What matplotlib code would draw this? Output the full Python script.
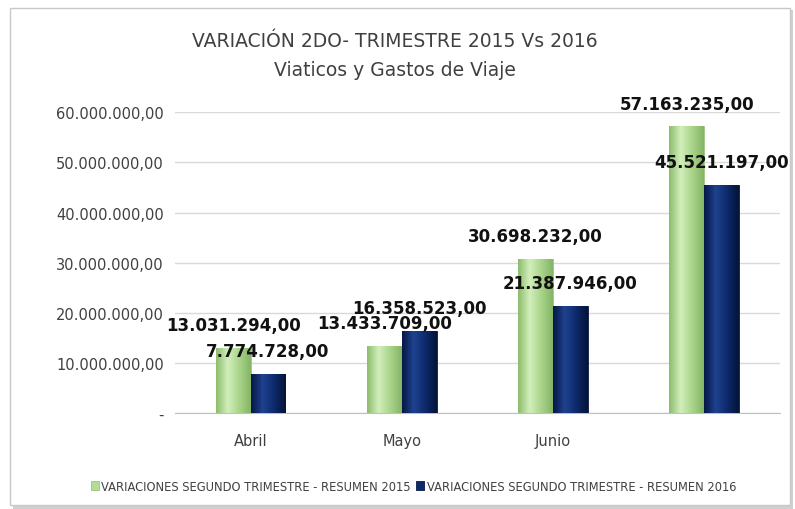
import matplotlib.pyplot as plt
import matplotlib.patches as patches
from matplotlib.colors import LinearSegmentedColormap
import numpy as np

# Data
meses = ["Abril", "Mayo", "Junio", ""]
resumen_2015 = [13031294.00, 13433709.00, 30698232.00, 57163235.00]
resumen_2016 = [7774728.00, 16358523.00, 21387946.00, 45521197.00]
series = ["VARIACIONES SEGUNDO TRIMESTRE - RESUMEN 2015",
          "VARIACIONES SEGUNDO TRIMESTRE - RESUMEN 2016"]
y_ticks = [0, 10e6, 20e6, 30e6, 40e6, 50e6, 60e6]


def fmt(v):
    # 13.031.294,00 style
    s = "{:,.2f}".format(v)
    return s.replace(",", "X").replace(".", ",").replace("X", ".")


fig = plt.figure(figsize=(7.95, 5.10), dpi=100)

# Chart frame with a soft shadow
shadow = patches.Rectangle((0.016, 0.0), 0.982, 0.978, transform=fig.transFigure,
                           facecolor="#d0d0d0", edgecolor="none", zorder=-2)
frame = patches.Rectangle((0.012, 0.008), 0.982, 0.975, transform=fig.transFigure,
                          facecolor="white", edgecolor="#c8c8c8", linewidth=1.0, zorder=-1)
fig.patches.extend([shadow, frame])

ax = fig.add_axes([0.220, 0.188, 0.761, 0.590])
ax.set_facecolor("none")

x = np.arange(len(meses))
w = 0.23
green = "#b3dc95"
navy = "#0d2a6b"

b1 = ax.bar(x - w / 2, resumen_2015, w, color=green, edgecolor="#9cc47e",
            linewidth=0.6, label=series[0], zorder=3)
b2 = ax.bar(x + w / 2, resumen_2016, w, color=navy, edgecolor="#081a45",
            linewidth=0.6, label=series[1], zorder=3)

# cylinder-like shading on every bar
shade_green = LinearSegmentedColormap.from_list("g", ["#8dbd6c", "#d2efbb", "#a9d48a", "#86b566"])
shade_navy = LinearSegmentedColormap.from_list("n", ["#061846", "#1f4290", "#0d2a6b", "#051438"])
grad = np.linspace(0, 1, 64).reshape(1, -1)
for bars, cm in [(b1, shade_green), (b2, shade_navy)]:
    for rect in bars:
        x0 = rect.get_x()
        im = ax.imshow(grad, extent=[x0, x0 + rect.get_width(), 0, rect.get_height()],
                       aspect="auto", cmap=cm, zorder=3.5, interpolation="bicubic")
        im.set_clip_path(rect)

# value labels
for bars, vals in [(b1, resumen_2015), (b2, resumen_2016)]:
    for rect, v in zip(bars, vals):
        ax.annotate(fmt(v), (rect.get_x() + rect.get_width() / 2, v),
                    xytext=(0, 10), textcoords="offset points",
                    ha="center", va="bottom", fontsize=12, fontweight="bold",
                    color="#111111", zorder=5)

ax.set_ylim(0, 60e6)
ax.set_xlim(-0.5, len(meses) - 0.5)
ax.set_yticks(y_ticks)
ax.set_yticklabels(["-"] + [fmt(t) for t in y_ticks[1:]], fontsize=10.5, color="#404040")
ax.set_xticks(x)
ax.set_xticklabels(meses, fontsize=10.5, color="#404040")
ax.tick_params(axis="both", length=0, pad=8)
ax.tick_params(axis="x", pad=14)

ax.grid(axis="y", color="#d9d9d9", linewidth=1.0, zorder=0)
for side in ["left", "right", "top"]:
    ax.spines[side].set_visible(False)
ax.spines["bottom"].set_color("#bfbfbf")

fig.text(0.497, 0.918, "VARIACIÓN 2DO- TRIMESTRE 2015 Vs 2016", ha="center",
         va="center", fontsize=13.5, color="#404040")
fig.text(0.497, 0.862, "Viaticos y Gastos de Viaje", ha="center",
         va="center", fontsize=13.5, color="#404040")

fig.legend(loc="center", bbox_to_anchor=(0.52, 0.045), ncol=2, frameon=False,
           fontsize=8.3, handlelength=0.7, handleheight=0.7, handletextpad=0.2,
           columnspacing=0.5, labelcolor="#404040")

fig.savefig("out.png", dpi=100)
